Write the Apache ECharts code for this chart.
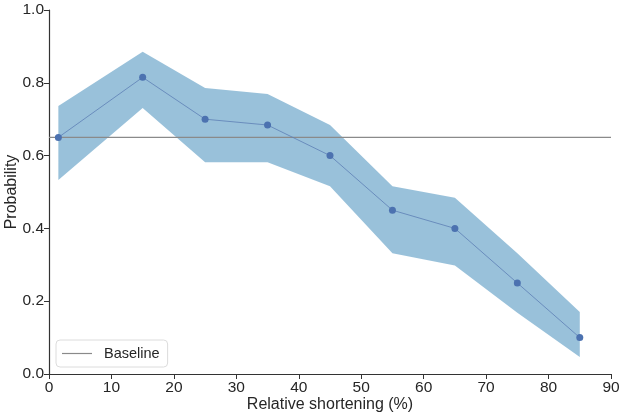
<!DOCTYPE html>
<html>
<head>
<meta charset="utf-8">
<script src="https://cdn.jsdelivr.net/npm/echarts@6/dist/echarts.min.js"></script>
<style>html,body{margin:0;padding:0;background:#fff}#c{width:623px;height:417px}</style>
</head>
<body>
<div id="c"></div>
<script>
const xValues = [1.5, 15, 25, 35, 45, 55, 65, 75, 85];
const probability = [0.65, 0.815, 0.70, 0.684, 0.60, 0.45, 0.40, 0.25, 0.10];
const upperBound = [0.736, 0.885, 0.786, 0.769, 0.684, 0.516, 0.484, 0.332, 0.170];
const lowerBound = [0.533, 0.731, 0.582, 0.582, 0.516, 0.332, 0.298, 0.168, 0.047];
const baselineValue = 0.65;
const xRange = [0, 90];

const chart = echarts.init(document.getElementById('c'), null, {renderer: 'canvas'});
const bandData = xValues.map((x, i) => [x, lowerBound[i], upperBound[i]]);
const txt = '#262626';
const ff = 'Liberation Sans, Arial, sans-serif';
chart.setOption({
  animation: false,
  grid: {left: 49, right: 12, top: 10, bottom: 43, containLabel: false, outerBoundsMode: 'none'},
  xAxis: {
    type: 'value', min: 0, max: 90, interval: 10,
    name: 'Relative shortening (%)', nameLocation: 'middle', nameGap: 23, nameMoveOverlap: false,
    nameTextStyle: {color: txt, fontSize: 16, fontFamily: ff},
    axisLine: {lineStyle: {color: '#333', width: 1.2}},
    axisTick: {show: true, length: 5, lineStyle: {color: '#333'}},
    axisLabel: {color: txt, fontSize: 15.5, margin: 6, fontFamily: ff},
    splitLine: {show: false}
  },
  yAxis: {
    type: 'value', min: 0, max: 1, interval: 0.2,
    name: 'Probability', nameLocation: 'middle', nameGap: 29, nameMoveOverlap: false,
    nameTextStyle: {color: txt, fontSize: 16, fontFamily: ff},
    axisLine: {show: true, lineStyle: {color: '#333', width: 1.2}},
    axisTick: {show: true, length: 5, lineStyle: {color: '#333'}},
    axisLabel: {color: txt, fontSize: 15.5, margin: 5, fontFamily: ff, formatter: v => v.toFixed(1)},
    splitLine: {show: false}
  },
  legend: {
    left: 56, bottom: 50,
    data: [{name: 'Baseline', icon: 'rect'}],
    itemWidth: 30, itemHeight: 1.2, itemGap: 10,
    padding: [6, 8, 6, 6],
    borderColor: '#dcdcdc', borderWidth: 1, borderRadius: 4,
    textStyle: {color: txt, fontSize: 14.5, fontFamily: ff, padding: [0, 0, 0, 7]}
  },
  series: [
    {
      type: 'custom', name: 'band', silent: true, z: 1,
      data: bandData,
      renderItem: function (params, api) {
        if (params.dataIndex !== 0) return null;
        const top = bandData.map(d => api.coord([d[0], d[2]]));
        const bot = bandData.slice().reverse().map(d => api.coord([d[0], d[1]]));
        return {type: 'polygon', shape: {points: top.concat(bot)}, style: {fill: 'rgba(136,183,212,0.86)'}};
      }
    },
    {
      type: 'line', name: 'Baseline', z: 3,
      data: [[xRange[0], baselineValue], [xRange[1], baselineValue]],
      symbol: 'none', lineStyle: {color: '#8a8a8a', width: 1.2}, itemStyle: {color: '#8a8a8a'}
    },
    {
      type: 'line', name: 'prob', z: 4,
      data: xValues.map((x, i) => [x, probability[i]]),
      symbol: 'circle', symbolSize: 7, showSymbol: true,
      lineStyle: {color: '#5d7fb5', width: 0.8},
      itemStyle: {color: '#4c72b0'}
    }
  ]
});
</script>
</body>
</html>
